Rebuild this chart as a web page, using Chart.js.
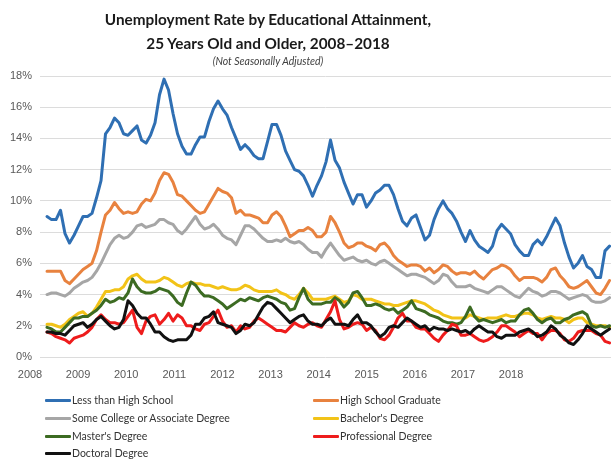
<!DOCTYPE html>
<html>
<head>
<meta charset="utf-8">
<script src="https://cdn.jsdelivr.net/npm/chart.js@4"></script>
<style>
  html, body { margin: 0; padding: 0; background: #ffffff; }
  #wrap { position: relative; width: 611px; height: 459px; overflow: hidden; background: #fff; }
  #chart { position: absolute; left: 0; top: 0; }
  .ttl { position: absolute; left: 0; width: 536px; text-align: center; font-family: Lato, "Liberation Sans", sans-serif; color: #1a1a1a; white-space: nowrap; }
  #t1 { top: 8px; font-size: 15.3px; font-weight: bold; line-height: 22px; }
  #t2 { top: 32px; font-size: 15.3px; font-weight: bold; line-height: 22px; }
  #t3 { top: 54px; font-size: 10.5px; font-style: italic; line-height: 14px; color: #404040; }
  #legend { position: absolute; left: 0; top: 0; width: 611px; height: 459px; pointer-events: none; }
  .li { position: absolute; height: 16px; display: flex; align-items: center; font-family: Lato, "Liberation Sans", sans-serif; font-size: 10.5px; color: #333; white-space: nowrap; }
  .li i { display: inline-block; width: 26px; height: 3px; margin-right: 1px; border-radius: 1px; }
</style>
</head>
<body>
<div id="wrap">
  <canvas id="chart" width="611" height="459"></canvas>
  <div class="ttl" id="t1">Unemployment Rate by Educational Attainment,</div>
  <div class="ttl" id="t2">25 Years Old and Older, 2008–2018</div>
  <div class="ttl" id="t3">(Not Seasonally Adjusted)</div>
  <div id="legend"></div>
</div>
<script>
// ---- data (monthly) ----
const yearLabels = ['2008','2009','2010','2011','2012','2013','2014','2015','2016','2017','2018'];
const yTickValues = [0, 2, 4, 6, 8, 10, 12, 14, 16, 18];
const seriesNames = ['Less than High School','High School Graduate','Some College or Associate Degree',"Bachelor's Degree","Master's Degree",'Professional Degree','Doctoral Degree'];

const lessThanHighSchool = [
  9.0, 8.8, 8.8, 9.4, 7.9, 7.3, 7.8, 8.4, 9.0, 9.0, 9.2, 10.2, 11.3, 14.3, 14.7, 15.3, 15.0, 14.3, 14.2, 14.5,
  14.8, 13.9, 13.7, 14.2, 15.0, 16.8, 17.8, 17.1, 15.6, 14.3, 13.5, 13.0, 13.0, 13.6, 14.1, 14.1, 15.1, 15.9, 16.4, 15.9, 15.5,
  14.7, 14.0, 13.3, 13.6, 13.3, 12.9, 12.7, 12.7, 13.8, 14.9, 14.9, 14.2, 13.2, 12.6, 12.0, 11.9, 11.6, 11.0, 10.3, 11.0,
  11.6, 12.5, 13.9, 12.6, 12.1, 11.2, 10.5, 9.8, 10.4, 10.4, 9.6, 10.0, 10.5, 10.7, 11.0, 11.0, 10.4, 9.5, 8.7, 8.4, 8.9,
  9.1, 8.3, 7.5, 7.8, 8.8, 9.5, 10.0, 9.5, 9.2, 8.7, 8.0, 7.4, 8.1, 7.5, 7.1, 6.9, 6.7, 7.1, 8.1, 8.5, 8.2,
  7.9, 7.2, 6.8, 6.5, 6.5, 7.2, 7.5, 7.2, 7.7, 8.3, 8.9, 8.4, 7.3, 6.4, 5.7, 6.0, 6.5, 5.8, 5.6, 5.1, 5.1, 6.8, 7.1
];
const highSchoolGraduate = [
  5.5, 5.5, 5.5, 5.5, 4.9, 4.7, 5.0, 5.3, 5.6, 5.8, 6.0, 6.8, 8.0, 9.1, 9.4, 9.9, 9.5, 9.2, 9.3, 9.2,
  9.3, 9.8, 10.1, 10.0, 10.5, 11.3, 11.8, 11.7, 11.2, 10.4, 10.3, 10.0, 9.7, 9.4, 9.2, 9.3, 9.8, 10.3, 10.8, 10.6, 10.5,
  10.2, 9.2, 9.4, 9.1, 9.1, 9.0, 8.9, 8.6, 8.6, 9.1, 9.3, 9.0, 8.4, 7.7, 7.9, 8.1, 8.1, 8.3, 8.1, 7.7,
  7.7, 8.0, 9.0, 8.6, 8.0, 7.3, 7.0, 7.1, 7.3, 7.3, 7.1, 7.0, 6.8, 7.2, 7.3, 7.0, 6.5, 6.2, 6.0, 5.8, 5.9,
  5.9, 5.8, 5.5, 5.7, 5.4, 5.6, 5.9, 5.8, 5.5, 5.3, 5.4, 5.4, 5.3, 5.5, 5.2, 5.0, 5.3, 5.6, 5.7, 5.9, 5.8,
  5.6, 5.2, 4.9, 5.1, 5.1, 5.1, 5.0, 4.8, 5.1, 5.6, 5.7, 5.2, 4.9, 4.5, 4.4, 4.5, 4.7, 4.9, 4.5, 4.1, 4.0, 4.4, 4.9
];
const someCollege = [
  4.0, 4.1, 4.1, 4.0, 3.9, 4.1, 4.4, 4.6, 4.8, 4.9, 5.1, 5.5, 6.0, 6.6, 7.2, 7.6, 7.8, 7.6, 7.7, 8.0,
  8.4, 8.5, 8.3, 8.4, 8.5, 8.8, 8.8, 8.6, 8.5, 8.1, 7.9, 8.2, 8.6, 9.0, 8.5, 8.2, 8.3, 8.5, 8.2, 7.8, 7.6,
  7.5, 7.2, 7.8, 8.4, 8.4, 8.2, 7.9, 7.6, 7.4, 7.4, 7.5, 7.4, 7.6, 7.4, 7.3, 7.4, 7.2, 6.9, 6.7, 6.7,
  6.4, 6.9, 7.3, 6.9, 6.5, 6.2, 6.3, 6.4, 6.2, 6.1, 6.2, 6.0, 5.9, 6.1, 6.2, 6.0, 5.8, 5.6, 5.4, 5.2, 5.3,
  5.3, 5.2, 5.1, 4.9, 4.7, 4.9, 5.3, 5.2, 4.8, 4.5, 4.5, 4.5, 4.6, 4.4, 4.3, 4.2, 4.1, 4.3, 4.5, 4.5, 4.3,
  4.1, 3.9, 3.8, 4.1, 4.4, 4.2, 4.1, 3.9, 4.0, 4.2, 4.2, 4.1, 3.9, 3.7, 3.8, 3.9, 4.0, 3.9, 3.6, 3.5, 3.5, 3.6, 3.8
];
const bachelors = [
  2.1, 2.1, 2.0, 1.9, 2.1, 2.4, 2.6, 2.8, 2.9, 2.6, 2.8, 3.2, 3.7, 4.2, 4.2, 4.3, 4.3, 4.5, 5.0, 5.2,
  5.3, 5.0, 4.8, 4.8, 4.8, 4.9, 5.1, 5.0, 4.8, 4.6, 4.5, 4.7, 4.8, 4.7, 4.7, 4.6, 4.6, 4.5, 4.4, 4.5, 4.4,
  4.3, 4.3, 4.4, 4.6, 4.5, 4.3, 4.2, 4.2, 4.2, 4.2, 4.3, 4.1, 4.0, 3.8, 3.7, 4.0, 4.4, 4.1, 3.7, 3.7,
  3.7, 3.7, 3.8, 3.9, 3.7, 3.5, 3.6, 4.0, 3.9, 3.7, 3.7, 3.7, 3.6, 3.5, 3.4, 3.4, 3.3, 3.3, 3.4, 3.5, 3.6,
  3.6, 3.5, 3.4, 3.2, 3.0, 2.9, 2.7, 2.6, 2.5, 2.5, 2.5, 2.5, 2.7, 2.6, 2.5, 2.4, 2.5, 2.5, 2.5, 2.6, 2.7,
  2.6, 2.6, 2.7, 2.8, 2.8, 2.7, 2.5, 2.4, 2.5, 2.6, 2.5, 2.5, 2.4, 2.2, 2.4, 2.5, 2.5, 2.2, 2.1, 2.0, 2.0, 2.0, 1.9
];
const masters = [
  1.9, 1.8, 1.6, 1.6, 1.9, 2.2, 2.5, 2.5, 2.6, 2.6, 2.8, 3.0, 3.3, 3.7, 3.5, 3.6, 3.8, 3.7, 4.1, 5.0,
  4.5, 4.2, 4.1, 4.1, 4.2, 4.4, 4.3, 4.2, 3.9, 3.5, 3.3, 4.1, 4.8, 4.6, 4.2, 3.9, 3.9, 3.8, 3.6, 3.4, 3.1,
  3.3, 3.5, 3.7, 3.6, 3.8, 3.7, 3.6, 3.8, 3.9, 3.8, 3.7, 3.5, 3.4, 3.0, 3.1, 3.8, 4.4, 3.7, 3.4, 3.4,
  3.4, 3.5, 3.5, 3.8, 3.6, 3.2, 3.5, 4.1, 4.2, 3.8, 3.3, 3.3, 3.4, 3.3, 3.1, 3.0, 3.1, 2.8, 3.0, 3.2, 3.6,
  3.1, 3.0, 2.9, 2.7, 2.6, 2.5, 2.3, 2.2, 2.2, 2.1, 2.2, 2.6, 3.2, 2.6, 2.3, 2.4, 2.3, 2.2, 2.3, 2.4, 2.2,
  2.3, 2.3, 2.7, 3.0, 3.1, 2.8, 2.4, 2.2, 2.4, 2.5, 2.2, 2.2, 2.4, 2.5, 2.7, 2.8, 2.9, 2.7, 2.0, 1.9, 2.0, 1.9, 2.0
];
const professional = [
  1.6, 1.5, 1.3, 1.2, 1.1, 0.9, 1.2, 1.3, 1.4, 1.6, 1.9, 2.4, 2.7, 2.4, 2.2, 2.2, 2.1, 2.2, 2.6, 3.0,
  1.9, 1.5, 2.3, 2.6, 2.7, 2.1, 2.4, 2.8, 2.3, 2.7, 2.5, 2.0, 2.0, 1.8, 1.7, 2.1, 2.2, 2.6, 3.0, 2.3, 1.9,
  2.0, 1.6, 2.0, 1.8, 1.9, 2.3, 2.5, 2.3, 2.1, 1.9, 1.7, 1.7, 1.6, 1.9, 2.2, 2.0, 1.9, 2.1, 2.2, 2.0,
  1.9, 2.4, 2.9, 3.6, 2.4, 1.8, 1.9, 2.1, 2.2, 2.1, 1.7, 1.9, 1.7, 1.2, 1.1, 1.4, 1.9, 2.5, 2.8, 2.3, 2.3,
  1.9, 1.8, 1.8, 1.5, 1.2, 1.0, 1.4, 1.7, 2.1, 2.0, 1.4, 1.4, 1.5, 1.3, 1.1, 1.0, 1.1, 1.3, 1.6, 2.0, 2.0,
  1.8, 1.6, 1.3, 1.5, 1.7, 1.5, 1.5, 1.1, 1.5, 1.7, 1.7, 1.5, 1.1, 1.0, 1.2, 1.6, 1.7, 1.7, 1.7, 1.5, 1.4, 1.0, 0.9
];
const doctoral = [
  1.6, 1.6, 1.5, 1.5, 1.4, 1.7, 2.0, 2.1, 2.2, 1.9, 2.1, 2.4, 2.6, 2.3, 2.0, 1.8, 1.9, 2.4, 3.6, 3.3,
  2.8, 2.5, 2.5, 2.1, 1.6, 1.6, 1.3, 1.1, 1.0, 1.1, 1.1, 1.1, 1.4, 2.1, 2.1, 2.5, 2.6, 2.9, 2.2, 2.1, 2.0,
  1.9, 1.5, 1.7, 2.1, 2.0, 2.2, 2.7, 3.2, 3.5, 3.4, 3.1, 2.8, 2.5, 2.2, 2.4, 2.6, 2.7, 2.3, 2.1, 2.1,
  2.0, 2.3, 2.5, 2.1, 2.1, 2.1, 2.0, 2.4, 2.7, 2.2, 2.2, 2.0, 1.6, 1.3, 1.5, 1.9, 2.0, 1.9, 2.2, 2.5, 2.3,
  2.1, 1.9, 2.0, 1.7, 1.9, 1.8, 1.8, 1.7, 1.8, 1.7, 1.6, 1.7, 1.5, 1.8, 2.0, 1.8, 1.6, 1.6, 1.3, 1.2, 1.4,
  1.4, 1.4, 1.6, 1.7, 1.8, 1.6, 1.3, 1.4, 1.6, 2.0, 1.8, 1.4, 1.2, 0.9, 0.8, 1.1, 1.5, 2.0, 1.8, 1.6, 1.4, 1.6, 1.8
];

// ---- styles / layout ----
const seriesColors = ['#2f6fb3', '#e8823f', '#a6a6a6', '#f2c318', '#3c6b22', '#ee1c1c', '#111111'];
const X_MIN = -1.56, X_MAX = 125.33;      // axis range in month-index units
const YEAR_TICK_STEP = 10.69;             // spacing of the year labels on the axis
const allSeries = [lessThanHighSchool, highSchoolGraduate, someCollege, bachelors, masters, professional, doctoral];

const datasets = allSeries.map((vals, k) => ({
  label: seriesNames[k],
  data: vals.map((v, i) => ({ x: i, y: v })),
  borderColor: seriesColors[k],
  backgroundColor: seriesColors[k],
  borderWidth: 3,
  pointRadius: 0,
  tension: 0,
  fill: false,
  borderJoinStyle: 'round',
  borderCapStyle: 'round',
  order: allSeries.length - k
}));

const chart = new Chart(document.getElementById('chart'), {
  type: 'line',
  data: { datasets },
  options: {
    responsive: false,
    animation: false,
    devicePixelRatio: 1,
    layout: { padding: { top: 76, bottom: 78, left: 0, right: 0 } },
    plugins: { legend: { display: false }, title: { display: false }, tooltip: { enabled: false } },
    scales: {
      x: {
        type: 'linear',
        min: X_MIN,
        max: X_MAX,
        grid: { display: false },
        border: { display: false },
        afterBuildTicks: (s) => { s.ticks = yearLabels.map((_, k) => ({ value: X_MIN + k * YEAR_TICK_STEP })); },
        afterFit: (s) => { s.height = 24; },
        ticks: {
          autoSkip: false, maxRotation: 0, minRotation: 0, padding: 3, labelOffset: -10,
          color: '#595959', font: { family: 'Liberation Sans', size: 11 },
          callback: (v, idx) => yearLabels[idx]
        }
      },
      y: {
        min: 0,
        max: 18,
        grid: { color: '#dcdcdc', lineWidth: 1, drawTicks: false },
        border: { display: false },
        afterBuildTicks: (s) => { s.ticks = yTickValues.map(v => ({ value: v })); },
        afterFit: (s) => { s.width = 40; },
        ticks: {
          padding: 8, color: '#595959', font: { family: 'Liberation Sans', size: 11 },
          callback: (v) => v + '%'
        }
      }
    }
  }
});

// ---- HTML legend built from the chart datasets (two columns) ----
const legend = document.getElementById('legend');
const colX = [45, 313];
const rowY = [392, 410, 428, 445];
chart.data.datasets.forEach((ds, k) => {
  const d = document.createElement('div');
  d.className = 'li';
  d.style.left = colX[k % 2] + 'px';
  d.style.top = rowY[Math.floor(k / 2)] + 'px';
  const sw = document.createElement('i');
  sw.style.background = ds.borderColor;
  d.appendChild(sw);
  d.appendChild(document.createTextNode(ds.label));
  legend.appendChild(d);
});
</script>
</body>
</html>
